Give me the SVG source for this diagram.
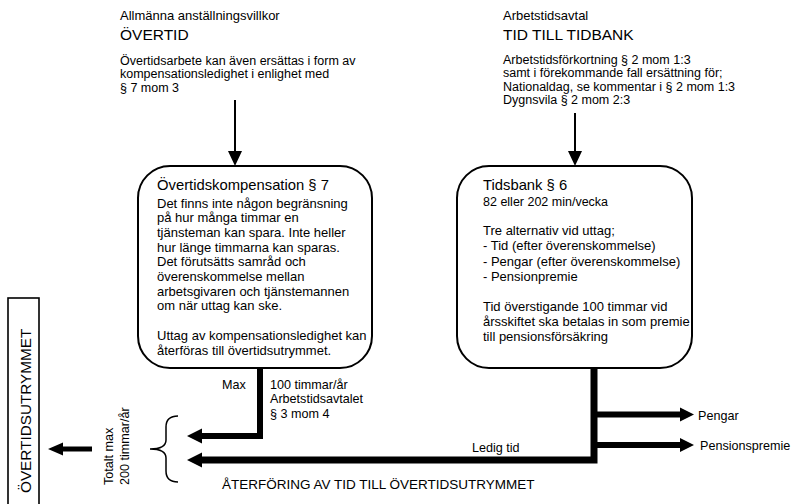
<svg xmlns="http://www.w3.org/2000/svg" width="791" height="504" viewBox="0 0 791 504">
<style>
text{font-family:"Liberation Sans",Arial,Helvetica,sans-serif;fill:#000}
.h{font-size:13px}
.t{font-size:15.5px}
.b{font-size:12.5px}
.bt{font-size:14.8px}
.bb{font-size:13px}
.s{font-size:12.6px}
.box{fill:#fff;stroke:#000;stroke-width:2}
.thin{fill:none;stroke:#000;stroke-width:2}
.thick{fill:none;stroke:#000;stroke-width:6;stroke-linejoin:miter}
.thick7{fill:none;stroke:#000;stroke-width:7;stroke-linejoin:miter}
.head{fill:#000}
</style>
<defs>
<marker id="ah" viewBox="0 0 10 10" refX="10" refY="5" markerWidth="7.5" markerHeight="7" markerUnits="strokeWidth" orient="auto">
<path d="M0,0 L10,5 L0,10 z" fill="#000"/>
</marker>
</defs>
<rect width="791" height="504" fill="#fff"/>

<g id="overtid-header">
<text class="h" x="120" y="20">Allmänna anställningsvillkor</text>
<text class="t" x="120" y="40">ÖVERTID</text>
<text class="b" x="120" y="64.5">Övertidsarbete kan även ersättas i form av</text>
<text class="b" x="120" y="78">kompensationsledighet i enlighet med</text>
<text class="b" x="120" y="91.5">§ 7 mom 3</text>
</g>

<g id="tidbank-header">
<text class="h" x="503" y="20">Arbetstidsavtal</text>
<text class="t" x="503" y="40">TID TILL TIDBANK</text>
<text class="b" x="503" y="63.5">Arbetstidsförkortning § 2 mom 1:3</text>
<text class="b" x="503" y="77">samt i förekommande fall ersättning för;</text>
<text class="b" x="503" y="90.5">Nationaldag, se kommentar i § 2 mom 1:3</text>
<text class="b" x="503" y="104">Dygnsvila § 2 mom 2:3</text>
</g>

<g id="overtidskompensation">
<rect class="box" x="138" y="166" width="234" height="202" rx="32" ry="32"/>
<text class="bt" x="157" y="190">Övertidskompensation § 7</text>
<text class="bb" x="157" y="207.5">Det finns inte någon begränsning</text>
<text class="bb" x="157" y="222.2">på hur många timmar en</text>
<text class="bb" x="157" y="236.9">tjänsteman kan spara. Inte heller</text>
<text class="bb" x="157" y="251.6">hur länge timmarna kan sparas.</text>
<text class="bb" x="157" y="266.3">Det förutsätts samråd och</text>
<text class="bb" x="157" y="281">överenskommelse mellan</text>
<text class="bb" x="157" y="295.7">arbetsgivaren och tjänstemannen</text>
<text class="bb" x="157" y="310.4">om när uttag kan ske.</text>
<text class="bb" x="157" y="339.8">Uttag av kompensationsledighet kan</text>
<text class="bb" x="157" y="354.5">återföras till övertidsutrymmet.</text>
</g>

<g id="tidsbank">
<rect class="box" x="457" y="166" width="235" height="202" rx="32" ry="32"/>
<text class="bt" x="483" y="190">Tidsbank § 6</text>
<text class="b" x="483" y="206">82 eller 202 min/vecka</text>
<text class="bb" x="483" y="235">Tre alternativ vid uttag;</text>
<text class="bb" x="483" y="250.3">- Tid (efter överenskommelse)</text>
<text class="bb" x="483" y="265.6">- Pengar (efter överenskommelse)</text>
<text class="bb" x="483" y="280.9">- Pensionpremie</text>
<text class="bb" x="483" y="310.5">Tid överstigande 100 timmar vid</text>
<text class="bb" x="483" y="325.5">årsskiftet ska betalas in som premie</text>
<text class="bb" x="483" y="340.5">till pensionsförsäkring</text>
</g>

<g id="overtidsutrymmet">
<rect x="8" y="298" width="31" height="220" fill="#fff" stroke="#000" stroke-width="1.6"/>
<text transform="translate(30.5,493) rotate(-90)" style="font-size:15.3px">ÖVERTIDSUTRYMMET</text>
</g>

<g id="totalt-max">
<text class="s" transform="translate(113,485) rotate(-90)">Totalt max</text>
<text class="s" transform="translate(129,485) rotate(-90)">200 timmar/år</text>
<path class="thin" style="stroke-width:1.5" d="M178,416 Q166,416 166,427 L166,440 Q166,449 150,449 Q166,449 166,458 L166,471 Q166,482 178,482"/>
</g>

<g id="labels">
<text class="s" x="222" y="388.5">Max</text>
<text class="s" x="270" y="388.5">100 timmar/år</text>
<text class="s" x="270" y="403">Arbetstidsavtalet</text>
<text class="s" x="270" y="417.5">§ 3 mom 4</text>
<text class="s" x="472" y="452">Ledig tid</text>
<text class="s" x="698" y="419.5">Pengar</text>
<text class="s" x="700" y="449.5">Pensionspremie</text>
<text x="222" y="489" style="font-size:13.5px">ÅTERFÖRING AV TID TILL ÖVERTIDSUTRYMMET</text>
</g>

<g id="connectors">
<line x1="235" y1="100" x2="235" y2="152" stroke="#000" stroke-width="2"/>
<polygon class="head" points="228,151 242,151 235,166"/>
<line x1="575" y1="113" x2="575" y2="152" stroke="#000" stroke-width="2"/>
<polygon class="head" points="568,151 582,151 575,166"/>

<path class="thick" d="M260,368 L260,436 L201,436"/>
<polygon class="head" points="202,428.5 187,436 202,443.5"/>

<path class="thick7" d="M594,368 L594,460 L201,460"/>
<polygon class="head" points="202,452.5 187,460 202,467.5"/>

<line x1="596" y1="414.5" x2="681" y2="414.5" stroke="#000" stroke-width="6"/>
<polygon class="head" points="680,407.5 694,414.5 680,421.5"/>
<line x1="596" y1="445" x2="681" y2="445" stroke="#000" stroke-width="6"/>
<polygon class="head" points="680,438 694,445 680,452"/>

<line x1="62" y1="449" x2="92" y2="449" stroke="#000" stroke-width="5"/>
<polygon class="head" points="63,442.5 48,449 63,455.5"/>
</g>
</svg>
